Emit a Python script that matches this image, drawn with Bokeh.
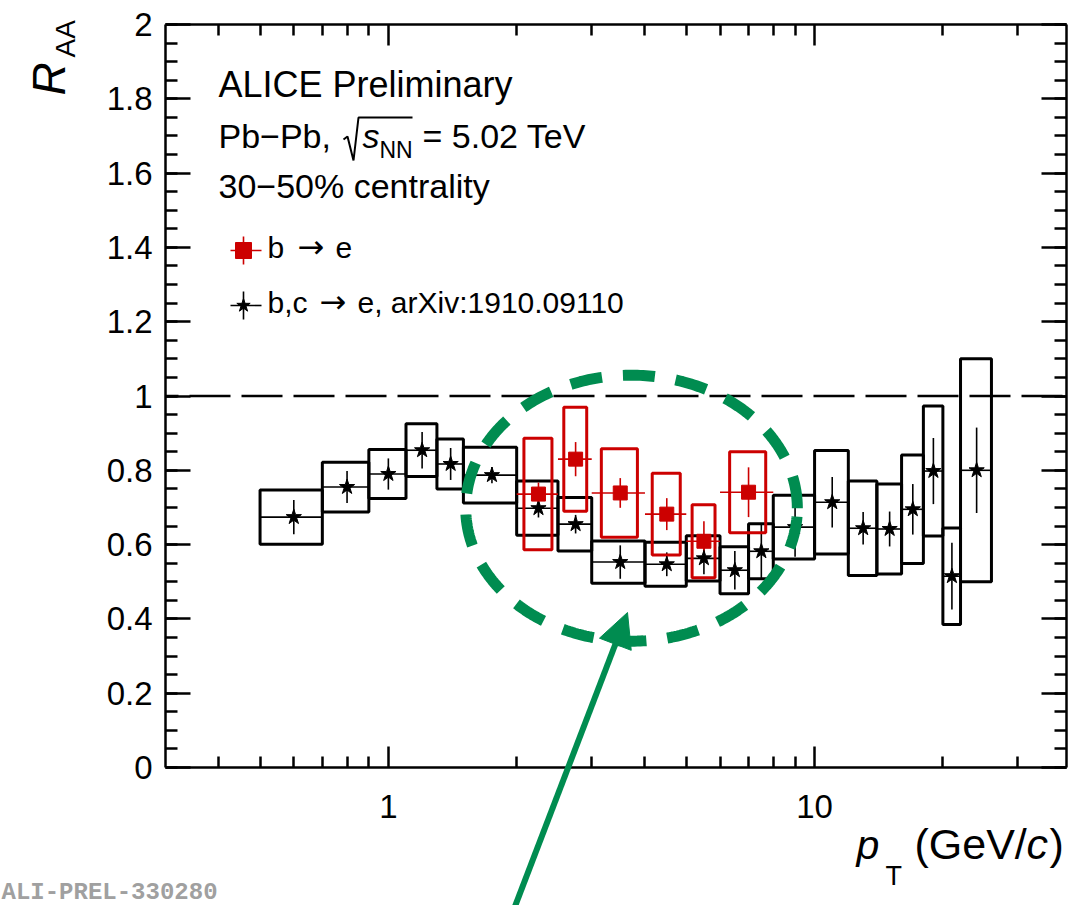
import numpy as np
from bokeh.plotting import figure
from bokeh.models import (LogAxis, LinearAxis, FixedTicker, SingleIntervalTicker,
                          CustomJSTickFormatter, Label, Arrow, NormalHead)
from bokeh.embed import file_html
from bokeh.resources import INLINE

# ---------------- data: R_AA vs pT, Pb-Pb 5.02 TeV, 30-50% centrality ----------------
# electrons from beauty-hadron decays
b_lo = [2.0, 2.5, 3.0, 4.0, 5.0, 6.0]
b_hi = [2.5, 3.0, 4.0, 5.0, 6.0, 8.0]
b_raa = [0.736, 0.830, 0.739, 0.682, 0.609, 0.741]
b_stat = [0.031, 0.046, 0.040, 0.043, 0.054, 0.067]
b_sys = [0.150, 0.140, 0.119, 0.110, 0.098, 0.109]

# electrons from heavy-flavour hadron decays (arXiv:1910.09110)
hf_lo = [0.5, 0.7, 0.9, 1.1, 1.3, 1.5, 2.0, 2.5, 3.0, 4.0, 5.0,
         6.0, 7.0, 8.0, 10.0, 12.0, 14.0, 16.0, 18.0, 20.0, 22.0]
hf_hi = [0.7, 0.9, 1.1, 1.3, 1.5, 2.0, 2.5, 3.0, 4.0, 5.0, 6.0,
         7.0, 8.0, 10.0, 12.0, 14.0, 16.0, 18.0, 20.0, 22.0, 26.0]
hf_raa = [0.674, 0.755, 0.790, 0.854, 0.817, 0.787, 0.698, 0.655, 0.553, 0.547, 0.563,
          0.531, 0.582, 0.647, 0.714, 0.644, 0.642, 0.695, 0.798, 0.515, 0.800]
hf_stat = [0.046, 0.043, 0.042, 0.049, 0.043, 0.022, 0.025, 0.025, 0.045, 0.032, 0.043,
           0.052, 0.075, 0.080, 0.068, 0.044, 0.047, 0.068, 0.089, 0.090, 0.115]
hf_sys = [0.073, 0.067, 0.066, 0.071, 0.067, 0.075, 0.073, 0.072, 0.057, 0.059, 0.061,
          0.063, 0.074, 0.086, 0.139, 0.127, 0.121, 0.146, 0.175, 0.130, 0.300]

x_major = [1, 10]
x_minor = [0.4, 0.5, 0.6, 0.7, 0.8, 0.9, 2, 3, 4, 5, 6, 7, 8, 9, 20, 30]
y_major_step = 0.2
y_minor_per_major = 4

# ---------------- layout ----------------
W, H = 1082, 905
BL, BR, BT, BB = 165, 1066, 24, 767          # axis box on the canvas (px)
XB0, XB1 = 0.3, 39.0                          # axis box extent in data
YB0, YB1 = 0.0, 2.0

# the plotting frame covers the whole canvas; the axes are pinned to the box
lx0, lx1 = np.log10(XB0), np.log10(XB1)
dec_px = (BR - BL) / (lx1 - lx0)
unit_px = (BB - BT) / (YB1 - YB0)
XLO, XHI = 10 ** (lx0 - BL / dec_px), 10 ** (lx1 + (W - BR) / dec_px)
YLO, YHI = YB0 - (H - BB) / unit_px, YB1 + BT / unit_px

RED = "#cc0000"
GREEN = "#008c50"
FONT = "Liberation Sans"


def to_data(sx, sy):
    """Canvas pixel position -> (pT, R_AA) data position."""
    x = 10 ** (lx0 + (sx - BL) / dec_px)
    y = YB0 + (BB - sy) / unit_px
    return float(x), float(y)


p = figure(width=W, height=H, x_axis_type="log", x_range=(XLO, XHI), y_range=(YLO, YHI),
           output_backend="svg", toolbar_location=None, min_border=0,
           background_fill_color="white", border_fill_color="white")
p.title.visible = False
p.xgrid.visible = False
p.ygrid.visible = False
p.outline_line_color = None


def style_axis(ax, tin, tmin, labels=True):
    ax.axis_line_color = "black"
    ax.axis_line_width = 2.5
    ax.major_tick_in = tin
    ax.major_tick_out = 0
    ax.minor_tick_in = tmin
    ax.minor_tick_out = 0
    ax.major_tick_line_width = 2.5
    ax.minor_tick_line_width = 2.5
    ax.major_tick_line_color = "black"
    ax.minor_tick_line_color = "black"
    if labels:
        ax.major_label_text_font = FONT
        ax.major_label_text_font_size = "33px"
        ax.major_label_text_color = "black"
    else:
        ax.formatter = CustomJSTickFormatter(code="return ''")
        ax.major_label_text_font_size = "0px"
        ax.major_label_standoff = 0


xb = p.xaxis[0]
xb.ticker = FixedTicker(ticks=x_major, minor_ticks=x_minor)
xb.formatter = CustomJSTickFormatter(code="return String(tick)")
xb.fixed_location = YB0
xb.bounds = (XB0, XB1)
style_axis(xb, 21, 11)
xb.major_label_standoff = 27

yl = p.yaxis[0]
yl.ticker = SingleIntervalTicker(interval=y_major_step, num_minor_ticks=y_minor_per_major)
yl.formatter = CustomJSTickFormatter(code="return String(Math.round(tick * 10) / 10)")
yl.fixed_location = XB0
yl.bounds = (YB0, YB1)
style_axis(yl, 25, 12)
yl.major_label_standoff = 13

xt = LogAxis(ticker=FixedTicker(ticks=x_major, minor_ticks=x_minor),
             fixed_location=YB1, bounds=(XB0, XB1))
style_axis(xt, 21, 11, labels=False)
p.add_layout(xt, "above")

yr = LinearAxis(ticker=SingleIntervalTicker(interval=y_major_step, num_minor_ticks=y_minor_per_major),
                fixed_location=XB1, bounds=(YB0, YB1))
style_axis(yr, 25, 12, labels=False)
p.add_layout(yr, "right")

# ---------------- heavy-flavour electrons (black) ----------------
hf_lo_a, hf_hi_a = np.array(hf_lo), np.array(hf_hi)
hf_y, hf_st, hf_sy = np.array(hf_raa), np.array(hf_stat), np.array(hf_sys)
hf_c = 0.5 * (hf_lo_a + hf_hi_a)

p.quad(left=hf_lo_a, right=hf_hi_a, bottom=hf_y - hf_sy, top=hf_y + hf_sy,
       fill_alpha=0, line_color="black", line_width=3)
p.segment(x0=hf_lo_a, x1=hf_hi_a, y0=hf_y, y1=hf_y, line_color="black", line_width=1.6)
p.segment(x0=hf_c, x1=hf_c, y0=hf_y - hf_st, y1=hf_y + hf_st, line_color="black", line_width=1.6)

# ---------------- beauty electrons (red) ----------------
b_lo_a, b_hi_a = np.array(b_lo), np.array(b_hi)
b_y, b_st, b_sy = np.array(b_raa), np.array(b_stat), np.array(b_sys)
b_c = 0.5 * (b_lo_a + b_hi_a)
b_hw = 0.34 * (b_hi_a - b_lo_a)

p.quad(left=b_c - b_hw, right=b_c + b_hw, bottom=b_y - b_sy, top=b_y + b_sy,
       fill_alpha=0, line_color=RED, line_width=3)
p.segment(x0=b_lo_a, x1=b_hi_a, y0=b_y, y1=b_y, line_color=RED, line_width=1.6)
p.segment(x0=b_c, x1=b_c, y0=b_y - b_st, y1=b_y + b_st, line_color=RED, line_width=1.6)

p.scatter(hf_c, hf_y, marker="star", size=16, fill_color="black", line_color="black")
p.scatter(b_c, b_y, marker="square", size=14, fill_color=RED, line_color=RED)

# unity reference line across the axis box
p.segment(x0=[XB0], x1=[XB1], y0=[1.0], y1=[1.0], line_color="black", line_width=2.5,
          line_dash="41 11", line_dash_offset=28)


# ---------------- texts ----------------
def add_text(sx, sy, text, size, style="normal", font=FONT, color="black", angle=0.0):
    """Place a text with its baseline start at canvas pixel (sx, sy)."""
    if angle == 0.0:
        sy -= 0.36 * size
    else:
        sx -= 0.36 * size
    x, y = to_data(sx, sy)
    p.add_layout(Label(x=x, y=y, text=text, text_font=font, text_font_size=f"{size}px",
                       text_font_style=style, text_color=color, text_align="left",
                       text_baseline="alphabetic", angle=angle))


add_text(218, 97, "ALICE Preliminary", 36)
add_text(218, 148, "Pb\u2212Pb,", 34)
rx, ry = zip(*[to_data(sx, sy) for sx, sy in [(343, 139), (347, 136), (353, 160), (358, 117), (412, 117)]])
p.line(list(rx), list(ry), line_color="black", line_width=2)
add_text(362, 148, "s", 34, style="italic")
add_text(379, 158, "NN", 23)
add_text(422, 148, "= 5.02 TeV", 34)
add_text(218, 198, "30\u221250% centrality", 34)

# legend
ARROW_FONT = "DejaVu Sans"
legend_rows = [((243, 250), "square", RED, 16, [(267, "b"), (335, "e")], 297),
               ((243, 305), "star", "black", 14, [(267, "b,c"), (357, "e, arXiv:1910.09110")], 319)]
for (cx, cy), mk, col, msz, pieces, arrow_x in legend_rows:
    hx0, hy = to_data(cx - 13, cy)
    hx1, _ = to_data(cx + 18, cy)
    vx, vy0 = to_data(cx, cy + 14)
    _, vy1 = to_data(cx, cy - 14)
    p.segment(x0=[hx0, vx], x1=[hx1, vx], y0=[hy, vy0], y1=[hy, vy1], line_color=col, line_width=1.6)
    p.scatter([vx], [hy], marker=mk, size=msz, fill_color=col, line_color=col)
    for px_, txt in pieces:
        add_text(px_, cy + 8, txt, 30)
    add_text(arrow_x, cy + 8, "\u2192", 32, font=ARROW_FONT)

# axis titles
add_text(856, 859, "p", 41, style="italic")
add_text(885, 885, "T", 27)
add_text(914, 859, "(GeV/", 43)
add_text(1026, 859, "c", 43, style="italic")
add_text(1049, 859, ")", 43)
add_text(65, 95, "R", 46, style="italic", angle=np.pi / 2)
add_text(75, 57, "AA", 28, angle=np.pi / 2)

add_text(1, 901, "ALI-PREL-330280", 24, style="bold", font="Liberation Mono", color="#a0a0a0")

# ---------------- highlighted region ----------------
ell_cx, ell_cy = 3.72, 0.698       # centre (pT, R_AA)
ell_rx_dec, ell_ry = 0.389, 0.358  # half-axes (decades of pT, R_AA)
t = np.linspace(0, 2 * np.pi, 361)
ex = 10 ** (np.log10(ell_cx) + ell_rx_dec * np.cos(t))
ey = ell_cy + ell_ry * np.sin(t)
p.line(ex, ey, line_color=GREEN, line_width=11, line_dash="32 21", line_cap="butt", level="overlay")

ax0, ay0 = to_data(511, 915)
ax1, ay1 = to_data(627, 612)
p.add_layout(Arrow(x_start=ax0, y_start=ay0, x_end=ax1, y_end=ay1,
                   line_color=GREEN, line_width=6, level="overlay",
                   end=NormalHead(size=34, fill_color=GREEN, line_color=GREEN, line_width=1)))

open("out.html", "w").write(file_html(p, INLINE))
